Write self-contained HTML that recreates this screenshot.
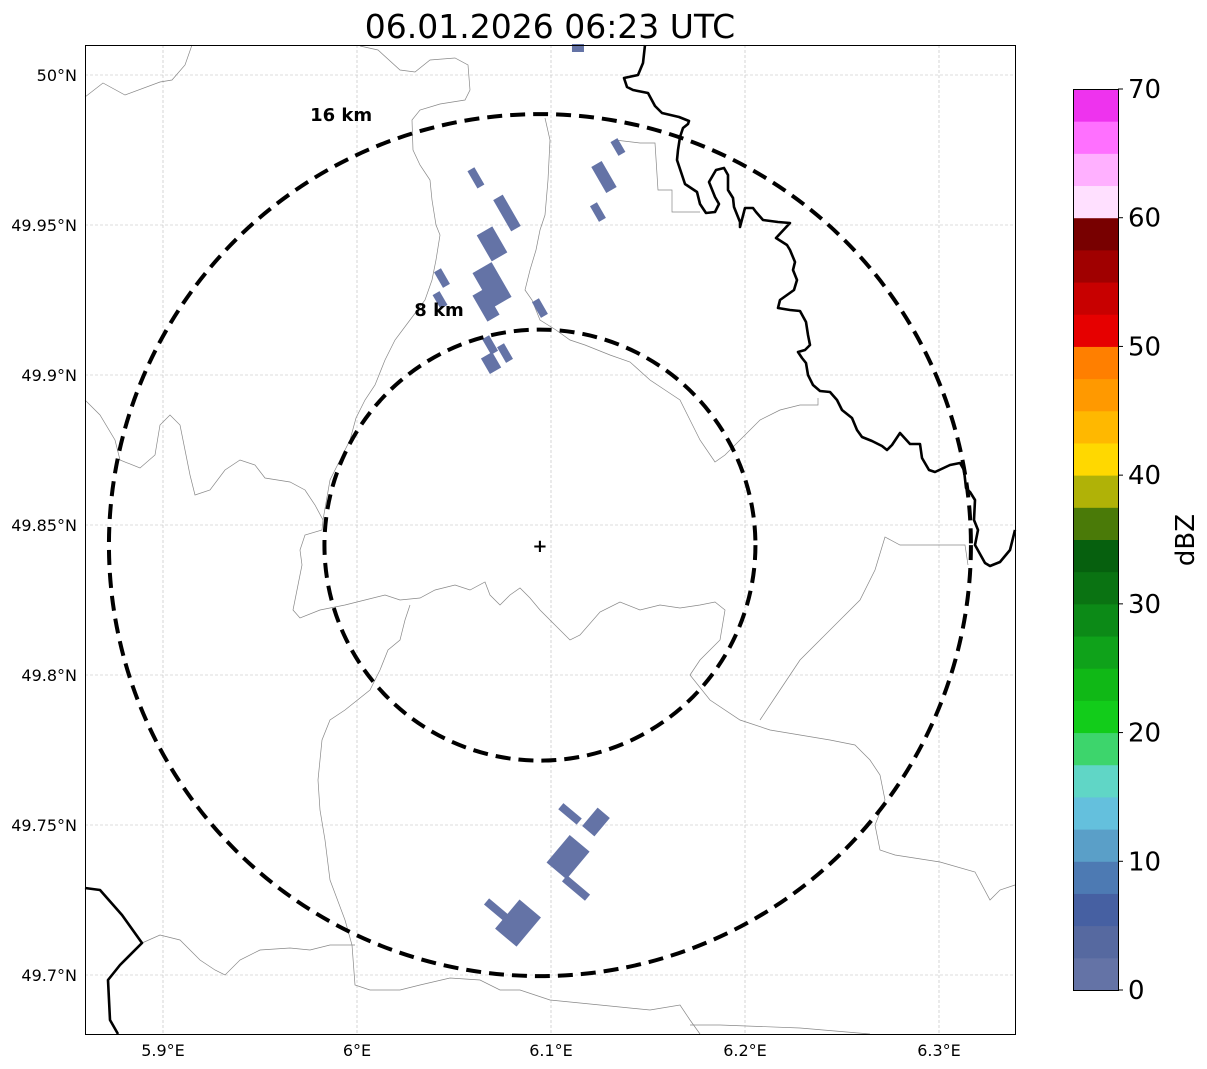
<!DOCTYPE html>
<html><head><meta charset="utf-8"><style>
body{margin:0;background:#fff;}
svg{display:block;font-family:"DejaVu Sans","Liberation Sans",sans-serif;}
</style></head><body>
<svg id="s" width="1207" height="1069" viewBox="0 0 1207 1069">
<text x="550" y="38" font-size="33" text-anchor="middle">06.01.2026 06:23 UTC</text>
<g id="grid"></g>
<g id="borders"></g>
<g id="echoes"></g>
<g id="rings"></g>
<rect x="85.5" y="45.5" width="930" height="989" fill="none" stroke="#000" stroke-width="1"/>
<g id="ticks"></g>
<g id="cbar"></g>
</svg>
<script>
const lonTicks=[5.9,6.0,6.1,6.2,6.3];
const lonLabels=["5.9°E","6°E","6.1°E","6.2°E","6.3°E"];
const latTicks=[50.0,49.95,49.9,49.85,49.8,49.75,49.7];
const latLabels=["50°N","49.95°N","49.9°N","49.85°N","49.8°N","49.75°N","49.7°N"];
const radarLon=6.0943, radarLat=49.8433;
const ringKm=[8,16];
const ringLabels=["8 km","16 km"];
const ringLabelLon=[6.0423,5.9918];
const ringLabelLat=[49.9217,49.9867];
const cbarTicks=[0,10,20,30,40,50,60,70];
const cbarColors=["#6473a6","#5669a0","#4660a2","#4d7ab3","#5a9fc8","#64c0dd","#60d6c6","#3dd56c","#12cc1a","#10b816","#0fa21a","#0c8a17","#0a7312","#06600e","#4a7a08","#b0b207","#ffd800","#ffb800","#ff9900","#ff7f00","#e60000","#c80000","#a00000","#780000","#ffe0ff","#ffb0ff","#ff70ff","#ee33ee"];
// echoes: lon, lat, w(px), h(px), angle, dBZ
const echoLon=[6.0613,6.0773,6.0696,6.0696,6.0665,6.0438,6.0428,6.0943,6.0686,6.0691,6.0763,6.1273,6.1345,6.1242,6.1139,6.1098,6.1232,6.1088,6.1129,6.0830,6.0727];
const echoLat=[49.9657,49.9540,49.9437,49.9300,49.9233,49.9323,49.9250,49.9223,49.9100,49.9040,49.9073,49.9660,49.9760,49.9543,50.0090,49.7537,49.7510,49.7393,49.7290,49.7173,49.7213];
const echoW=[8,11,18,22,14,8,8,8,8,13,8,12,8,8,12,24,16,26,30,28,30];
const echoH=[20,36,30,40,30,18,16,18,18,18,18,30,16,18,8,8,24,36,8,38,8];
const echoAng=[-30,-30,-30,-30,-30,-30,-30,-30,-30,-30,-30,-30,-30,-30,0,40,40,40,40,40,40];
const echoDbz=[1,1,1,2,1,1,1,1,1,1,1,1,1,1,1,1,1,2,1,1,1];

const X0=163, PXLON=1940, Y0=75, PXLAT=3000;
const xS=lon=>X0+(lon-5.9)*PXLON;
const yS=lat=>Y0+(50-lat)*PXLAT;
const NS="http://www.w3.org/2000/svg";
function mk(tag,attrs,parent){const e=document.createElementNS(NS,tag);for(const k in attrs)e.setAttribute(k,attrs[k]);parent.appendChild(e);return e;}
const grid=document.getElementById('grid'),ticks=document.getElementById('ticks');
lonTicks.forEach((v,i)=>{const x=xS(v);
 const l=mk('line',{x1:x,x2:x,y1:45,y2:1034,stroke:'#bbb','stroke-width':0.6,'stroke-dasharray':'3,2'},grid);
 
 
 const t=mk('text',{x:x,y:1056,'font-size':16,'text-anchor':'middle'},ticks);t.textContent=lonLabels[i];
 
 });
latTicks.forEach((v,i)=>{const y=yS(v);
 const l=mk('line',{x1:85,x2:1015,y1:y,y2:y,stroke:'#bbb','stroke-width':0.6,'stroke-dasharray':'3,2'},grid);
 
 
 const t=mk('text',{x:77,y:y+6,'font-size':16,'text-anchor':'end'},ticks);t.textContent=latLabels[i];
 
 });
const B=document.getElementById('borders');
const thick=[
[[645,45],[643,63],[638,75],[624,78],[627,87],[633,90],[648,93],[655,106],[662,113],[679,117],[689,121],[688,124],[683,128],[680,137],[678,150],[677,160],[685,184],[697,192],[700,204],[706,213],[715,212],[719,204],[715,197],[709,182],[716,170],[724,168],[728,175],[728,190],[733,198],[734,207],[740,222],[740,227],[745,208],[753,208],[756,212],[763,220],[778,222],[790,223],[776,238],[787,245],[790,250],[795,262],[793,270],[797,280],[794,290],[780,300],[778,308],[790,310],[800,311],[806,322],[808,335],[810,345],[805,350],[798,352],[802,358],[806,363],[808,375],[813,385],[820,391],[830,392],[837,400],[842,410],[852,418],[857,430],[862,437],[872,441],[882,446],[887,450],[892,445],[900,433],[910,444],[920,444],[922,458],[929,470],[935,472],[950,465],[960,463],[964,470],[966,488],[970,492],[975,500],[974,520],[978,530],[975,545],[985,563],[990,566],[1000,562],[1010,550],[1015,530]],
[[85,888],[100,890],[122,915],[142,943],[120,965],[108,980],[110,1020],[118,1034]]];
const thin=[
[[85,97],[103,83],[125,95],[160,82],[172,80],[185,65],[192,45]],
[[360,46],[378,50],[400,70],[415,72],[430,60],[455,58],[468,65],[470,90],[465,100],[440,104],[420,110],[412,120],[413,150],[420,165],[430,180],[432,200],[436,225],[440,235],[436,260],[432,280],[425,300],[410,320],[395,340],[385,360],[375,385],[365,400],[356,418],[350,440],[340,460],[330,480],[323,520]],
[[545,118],[550,140],[548,180],[545,215],[540,230],[536,250],[530,270],[525,290],[532,300],[540,320],[556,330],[570,340],[585,345],[610,355],[630,362],[650,380],[665,390],[680,400],[690,420],[700,440],[715,462],[725,455],[740,440],[760,420],[780,410],[800,405],[818,405],[818,398]],
[[615,140],[640,143],[655,143],[658,190],[672,190],[672,212],[700,212]],
[[85,400],[100,415],[115,440],[120,460],[140,468],[155,455],[160,425],[170,415],[180,425],[185,450],[190,475],[195,495],[210,490],[225,470],[240,460],[255,465],[265,478],[290,482],[305,490],[315,505],[323,520],[322,530],[305,535],[300,550],[302,565],[298,585],[293,610],[300,618],[320,610],[345,605],[365,600],[385,595],[400,600],[420,598],[435,590],[455,585],[470,590],[485,582],[490,595],[500,605],[510,595],[520,588],[530,598],[540,610],[555,625],[570,640],[580,635],[600,612],[620,602],[640,610],[660,605],[680,608],[700,605],[715,602],[725,610],[720,640],[700,660],[690,675],[710,700],[740,720],[770,730],[800,735],[830,740],[855,745],[870,760],[880,775],[885,800],[875,825],[880,850],[895,855],[940,862],[975,872],[990,900],[1000,890],[1015,885]],
[[410,605],[405,620],[400,640],[388,650],[380,670],[370,690],[345,710],[330,720],[322,740],[318,780],[320,810],[325,840],[330,880],[345,920],[352,945],[355,985],[370,990],[400,990],[420,985],[450,978],[480,980],[500,990],[520,990],[550,1000],[600,1005],[650,1010],[680,1005],[690,1020],[700,1034]],
[[142,943],[160,935],[180,940],[200,960],[215,970],[225,975],[240,960],[260,950],[290,948],[310,950],[330,945],[355,945]],
[[968,565],[965,545],[940,545],[900,545],[885,537],[875,570],[860,600],[840,620],[820,640],[800,660],[780,690],[760,720]],
[[690,1025],[720,1025],[800,1028],[870,1034]]];
thin.forEach(p=>{const e=mk('polyline',{points:p.map(q=>q.join(',')).join(' '),fill:'none',stroke:'#888','stroke-width':0.7},B);
 
 });
thick.forEach(p=>{const e=mk('polyline',{points:p.map(q=>q.join(',')).join(' '),fill:'none',stroke:'#000','stroke-width':2.6,'stroke-linejoin':'round'},B);
 
 });
const E=document.getElementById('echoes');
const cIdx=d=>Math.max(0,Math.min(cbarColors.length-1,Math.floor(d/2.5)));
echoLon.forEach((lon,i)=>{const cx=xS(lon),cy=yS(echoLat[i]);
 const r=mk('rect',{x:cx-echoW[i]/2,y:cy-echoH[i]/2,width:echoW[i],height:echoH[i],fill:cbarColors[cIdx(echoDbz[i])],transform:`rotate(${echoAng[i]} ${cx} ${cy})`},E);
 
 });
const R=document.getElementById('rings');
const rcx=xS(radarLon),rcy=yS(radarLat);
const pxPerKm=431/16;
ringKm.forEach((km,i)=>{const rr=km*pxPerKm;
 const c=mk('circle',{cx:rcx,cy:rcy,r:rr,fill:'none',stroke:'#000','stroke-width':4,'stroke-dasharray':'15,8'},R);
 
 
 const t=mk('text',{x:xS(ringLabelLon[i]),y:yS(ringLabelLat[i])+6,'font-size':18,'font-weight':'bold','text-anchor':'middle'},R);t.textContent=ringLabels[i];
 
 });
const m=mk('text',{x:rcx,y:rcy+7,'font-size':18,'font-weight':'bold','text-anchor':'middle'},R);m.textContent='+';


const C=document.getElementById('cbar');
const cbTop=89,cbBot=990,cbX=1073,cbW=45,vmax=70;
const cy=v=>cbBot-(v/vmax)*(cbBot-cbTop);
cbarColors.forEach((col,i)=>{const y1=cy((i+1)*2.5),y2=cy(i*2.5);
 const r=mk('rect',{x:cbX,y:y1,width:cbW,height:y2-y1+0.5,fill:col},C);
 
 });
mk('rect',{x:cbX+0.5,y:cbTop+0.5,width:cbW,height:cbBot-cbTop,fill:'none',stroke:'#000','stroke-width':1},C);
cbarTicks.forEach(v=>{const y=cy(v);
 mk('line',{x1:cbX+cbW,x2:cbX+cbW+5,y1:y,y2:y,stroke:'#000'},C);
 const t=mk('text',{x:cbX+cbW+10,y:y+9,'font-size':26},C);t.textContent=v;
 
 });
const lab=mk('text',{x:1194,y:540,'font-size':26,'text-anchor':'middle',transform:'rotate(-90 1194 540)'},C);lab.textContent='dBZ';


</script>
</body></html>
